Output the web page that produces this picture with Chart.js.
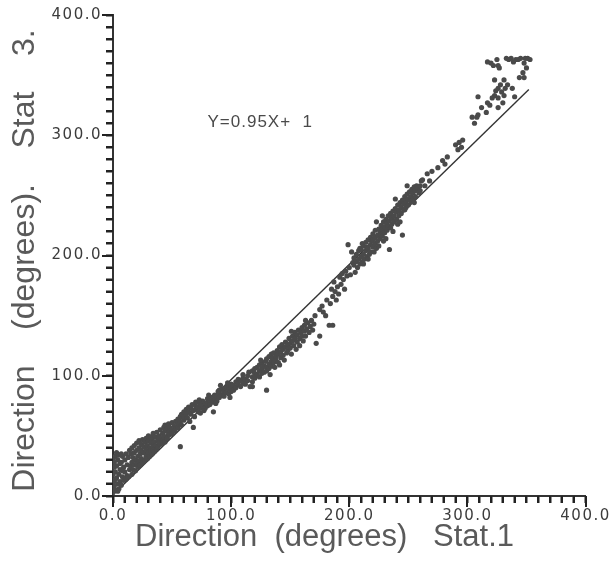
<!DOCTYPE html>
<html>
<head>
<meta charset="utf-8">
<script src="https://cdn.jsdelivr.net/npm/chart.js@4/dist/chart.umd.min.js"></script>
<style>
  html, body { margin: 0; padding: 0; background: #fff; }
</style>
</head>
<body>
<canvas id="chart" width="611" height="562"></canvas>
<script>
// Direction at station 1 (x) against station 3 (y), degrees
const stat1 = [
  0, 1, 2, 1, 3, 2, 4, 5, 3, 1,
  2, 4, 5, 6, 6, 7, 7, 8, 8, 9,
  9, 10, 10, 11, 12, 12, 0, 1, 3, 5,
  6, 8, 11, 4, 2, 0, 7, 13, 14, 13,
  14, 15, 15, 16, 16, 16, 17, 17, 18, 18,
  18, 19, 19, 20, 20, 20, 21, 21, 22, 22,
  22, 23, 23, 24, 24, 24, 25, 25, 26, 26,
  27, 27, 28, 28, 28, 29, 29, 30, 30, 30,
  31, 31, 32, 32, 32, 33, 33, 34, 34, 34,
  35, 35, 36, 36, 37, 37, 38, 38, 39, 39,
  40, 40, 40, 42, 42, 42, 43, 43, 44, 44,
  44, 46, 46, 46, 47, 47, 48, 48, 50, 50,
  50, 52, 52, 53, 53, 55, 55, 55, 57, 57,
  57, 58, 58, 60, 60, 60,
  62, 62, 63, 64, 64, 66, 66, 67, 68, 68,
  70, 70, 70, 72, 72, 74, 74, 74, 76, 76,
  78, 78, 80, 80, 80, 82, 82, 84, 84, 85,
  86, 86, 88, 88, 90, 90, 90, 92, 92, 94,
  94, 95, 96, 96, 98, 98, 98, 100, 100, 100,
  65, 69, 73, 77, 81, 87, 91, 97, 99, 89,
  102, 102, 104, 104, 106, 106, 108, 108, 110, 110,
  110, 112, 112, 114, 114, 115, 116, 118, 118, 118,
  120, 120, 120, 122, 122, 124, 124, 124, 126, 126,
  126, 128, 128, 129, 130, 130, 130, 130, 132, 132,
  132, 134, 134, 134, 135, 136, 136, 137, 138, 138,
  139, 140, 140, 141, 142, 142, 143, 144, 144, 145,
  146, 146, 147, 148, 148, 149, 150, 150, 151, 152,
  152, 153, 154, 154, 155, 156, 156, 157, 158, 158,
  159, 160, 160, 161, 162, 162, 163, 164, 165, 166,
  167, 168, 169, 170, 118, 125, 133, 141, 151, 163,
  172, 178, 183, 175, 171, 175, 177, 181, 180, 184,
  186, 186, 188, 189, 190, 191, 192, 193, 194, 195,
  196, 197, 198, 199, 200, 202, 201, 203, 185, 187,
  204, 204, 205, 206, 206, 207, 208, 208, 209, 209,
  210, 210, 211, 211, 212, 212, 213, 214, 214, 215,
  215, 216, 216, 217, 218, 218, 218, 219, 220, 220,
  220, 221, 222, 222, 222, 223, 224, 224, 225, 225,
  226, 226, 227, 227, 228, 228, 229, 229, 230, 230,
  231, 231, 232, 232, 233, 233, 234, 234, 235, 235,
  236, 236, 237, 237, 238, 238, 239, 240, 240, 241,
  241, 242, 242, 243, 244, 244, 245, 245, 246, 246,
  247, 247, 248, 248, 249, 250, 250, 251, 252, 252,
  253, 254, 254, 255, 256, 256, 257, 258, 259, 260,
  260, 261, 212, 216, 223, 228, 239, 243, 249, 255,
  262, 264, 266, 268, 270, 275, 279, 281, 283, 290,
  292, 293, 295, 296, 304, 306, 308,
  317, 320, 325, 326, 327, 333, 337, 341, 345, 349,
  353, 348, 350, 347, 348, 344, 323, 331, 334, 326,
  329, 323, 321, 326, 331, 330, 326, 317, 316, 312,
  309, 309, 340, 338, 343, 335, 351, 319, 328, 324,
  332, 322, 339
];

const stat3 = [
  3, 8, 5, 12, 15, 20, 10, 6, 25, 28,
  33, 30, 18, 22, 12, 9, 28, 16, 33, 24,
  13, 20, 30, 35, 17, 26, 18, 24, 36, 34,
  27, 21, 14, 4, 14, 30, 35, 32, 22, 16,
  38, 25, 35, 18, 28, 40, 32, 22, 36, 26,
  42, 30, 21, 38, 27, 44, 33, 24, 40, 29,
  46, 35, 26, 43, 31, 38, 28, 47, 36, 41,
  30, 45, 38, 33, 48, 42, 31, 36, 46, 50,
  40, 33, 44, 38, 49, 35, 47, 41, 52, 38,
  45, 37, 49, 42, 39, 53, 46, 41, 50, 44,
  43, 55, 48, 46, 52, 44, 49, 57, 45, 54,
  59, 50, 56, 48, 53, 60, 51, 57, 55, 52,
  61, 58, 54, 56, 62, 57, 64, 60, 41, 62,
  66, 59, 68, 63, 70, 66,
  68, 72, 65, 70, 74, 68, 73, 76, 57, 71,
  72, 75, 78, 74, 70, 73, 77, 69, 75, 79,
  77, 73, 78, 81, 75, 80, 76, 82, 78, 70,
  81, 84, 83, 79, 86, 82, 88, 84, 89, 87,
  83, 90, 86, 91, 89, 85, 92, 90, 87, 93,
  62, 66, 80, 71, 84, 77, 92, 94, 82, 87,
  92, 88, 95, 90, 93, 97, 96, 91, 98, 94,
  101, 97, 93, 100, 96, 103, 91, 99, 104, 95,
  102, 98, 106, 101, 107, 104, 99, 109, 106, 102,
  111, 108, 103, 112, 107, 88, 114, 104, 110, 116,
  106, 112, 108, 118, 115, 111, 119, 107, 116, 113,
  121, 118, 111, 124, 115, 120, 126, 122, 117, 113,
  124, 128, 119, 126, 121, 131, 127, 123, 118, 129,
  133, 125, 131, 136, 122, 128, 134, 138, 131, 125,
  136, 133, 140, 129, 137, 142, 133, 139, 144, 136,
  141, 146, 138, 143, 91, 113, 101, 109, 137, 146,
  127, 153, 142, 133, 150, 155, 158, 163, 150, 160,
  142, 166, 170, 163, 174, 168, 182, 176, 185, 180,
  172, 187, 183, 209, 190, 203, 184, 194, 172, 178,
  192, 198, 186, 195, 201, 190, 197, 204, 193, 206,
  199, 205, 195, 210, 201, 208, 197, 204, 211, 199,
  207, 206, 213, 201, 209, 203, 215, 212, 213, 207,
  218, 203, 215, 210, 221, 206, 217, 212, 222, 208,
  220, 214, 225, 217, 222, 216, 228, 212, 224, 219,
  230, 214, 227, 221, 224, 233, 205, 229, 223, 235,
  231, 226, 237, 220, 233, 228, 239, 236, 230, 242,
  226, 238, 233, 244, 240, 235, 246, 217, 243, 238,
  249, 238, 245, 240, 251, 247, 242, 253, 249, 245,
  255, 252, 247, 257, 254, 249, 258, 256, 252, 258,
  254, 262, 193, 197, 228, 233, 247, 228, 258, 244,
  263, 258, 268, 262, 270, 273, 279, 276, 282, 292,
  288, 294, 290, 296, 315, 310, 315,
  361, 360, 363, 358, 356, 364, 364, 363, 364, 364,
  363, 360, 356, 352, 348, 348, 346, 346, 342, 339,
  336, 333, 331, 331, 333, 327, 323, 327, 319, 323,
  332, 317, 332, 339, 363, 363, 364, 325, 342, 337,
  339, 358, 361
];

// regression line end points
const fitX = [0, 352];
const fitY = [1, 338];

const majorTicks = [0, 100, 200, 300, 400];
const xTitle = "Direction  (degrees)   Stat.1";
const yTitle = "Direction    (degrees).    Stat    3.";
const fitLabel = "Y=0.95X+  1";
const fitLabelPos = [80, 311];

Chart.defaults.font.family = "'DejaVu Sans', sans-serif";
Chart.defaults.color = "#3c3c3c";

const points = stat1.map((x, i) => ({ x: x, y: stat3[i] }));
const fitLine = fitX.map((x, i) => ({ x: x, y: fitY[i] }));

// plotter look: spaced tick numbers, a comb of ticks on both axes, titles drawn by hand
const plotterText = {
  id: "plotterText",
  beforeDraw(chart) {
    chart.ctx.letterSpacing = "1.5px";
  },
  afterDraw(chart) {
    const ctx = chart.ctx;
    const x = chart.scales.x;
    const y = chart.scales.y;
    const area = chart.chartArea;
    ctx.save();
    ctx.letterSpacing = "0px";
    ctx.fillStyle = "#222";
    // every tick the scales generated, longer on the labelled ones
    x.ticks.forEach((t) => {
      const len = majorTicks.includes(t.value) ? 11 : 7;
      const px = Math.round(x.getPixelForValue(t.value));
      ctx.fillRect(px - 1, area.bottom, 2, len);
    });
    y.ticks.forEach((t) => {
      const len = majorTicks.includes(t.value) ? 11 : 7;
      const py = Math.round(y.getPixelForValue(t.value));
      ctx.fillRect(area.left - len, py - 1, len, 2);
    });

    ctx.fillStyle = "#5a5a5a";
    ctx.font = "31px 'Liberation Sans', sans-serif";
    ctx.textBaseline = "middle";
    ctx.textAlign = "left";
    ctx.fillText(xTitle, area.left + 22, 537);

    ctx.save();
    ctx.translate(25, (area.top + area.bottom) / 2 + 5);
    ctx.rotate(-Math.PI / 2);
    ctx.textAlign = "center";
    ctx.font = "32px 'Liberation Sans', sans-serif";
    ctx.fillText(yTitle, 0, 0);
    ctx.restore();

    ctx.fillStyle = "#4a4a4a";
    ctx.font = "17px 'Liberation Sans', sans-serif";
    ctx.letterSpacing = "1px";
    ctx.textAlign = "left";
    ctx.fillText(fitLabel, x.getPixelForValue(fitLabelPos[0]), y.getPixelForValue(fitLabelPos[1]));
    ctx.restore();
  },
};

const tickLabel = (v) => (v % 100 === 0 ? v.toFixed(1) : "");

new Chart(document.getElementById("chart"), {
  type: "scatter",
  data: {
    datasets: [
      {
        data: points,
        pointRadius: 2.6,
        pointBackgroundColor: "#4a4a4a",
        pointBorderWidth: 0,
      },
      {
        data: fitLine,
        showLine: true,
        borderColor: "#333",
        borderWidth: 1.4,
        pointRadius: 0,
      },
    ],
  },
  options: {
    responsive: false,
    animation: false,
    layout: { padding: { top: 15, right: 25, left: 0, bottom: 0 } },
    plugins: {
      legend: { display: false },
      tooltip: { enabled: false },
    },
    scales: {
      x: {
        min: 0,
        max: 400,
        ticks: {
          stepSize: 10,
          autoSkip: false,
          maxRotation: 0,
          padding: 4,
          font: { size: 15 },
          callback: tickLabel,
        },
        grid: { drawOnChartArea: false, tickLength: 7, tickColor: "#222", tickWidth: 2 },
        border: { color: "#333", width: 2 },
        afterFit: (s) => {
          s.height = 66;
        },
      },
      y: {
        min: 0,
        max: 400,
        ticks: {
          stepSize: 10,
          autoSkip: false,
          padding: 4,
          font: { size: 15 },
          callback: tickLabel,
        },
        grid: { drawOnChartArea: false, tickLength: 7, tickColor: "#222", tickWidth: 2 },
        border: { color: "#333", width: 2 },
        afterFit: (s) => {
          s.width = 113;
        },
      },
    },
  },
  plugins: [plotterText],
});
</script>
</body>
</html>
